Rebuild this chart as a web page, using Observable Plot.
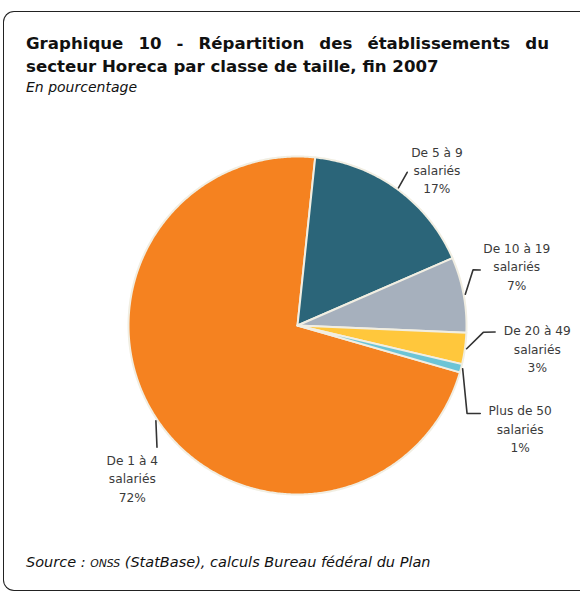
<!DOCTYPE html>
<html><head><meta charset="utf-8">
<script src="https://cdn.jsdelivr.net/npm/d3@7"></script>
<script src="https://cdn.jsdelivr.net/npm/@observablehq/plot@0.6"></script>
<style>
body{margin:0;background:#fff;}
#wrap{position:relative;width:580px;height:592px;overflow:hidden;font-family:"DejaVu Sans",sans-serif;color:#111;}
#frame{position:absolute;left:3px;top:11px;width:590px;height:580px;border:1.5px solid #222;border-right:none;border-radius:11px 0 0 11px;box-sizing:border-box;}
#title{position:absolute;left:26px;top:33px;width:523px;font-family:"DejaVu Sans",sans-serif;font-weight:700;font-size:16.6px;line-height:22.5px;}
#title .l1{text-align:justify;text-align-last:justify;white-space:nowrap;}
#sub{position:absolute;left:26px;top:79px;font-style:italic;font-size:14px;}
#chart{position:absolute;left:0;top:100px;}
#source{position:absolute;left:26px;top:554px;font-style:italic;font-size:14.5px;}
#source .sc{font-size:10.8px;}
</style></head>
<body>
<div id="wrap">
  <div id="frame"></div>
  <div id="title"><div class="l1">Graphique 10 - Répartition des établissements du</div><div>secteur Horeca par classe de taille, fin 2007</div></div>
  <div id="sub">En pourcentage</div>
  <div id="chart"></div>
  <div id="source">Source : <span class="sc">ONSS</span> (StatBase), calculs Bureau fédéral du Plan</div>
</div>
<script>
// Data
const categories = ["De 1 à 4", "De 5 à 9", "De 10 à 19", "De 20 à 49", "Plus de 50"];
const values = [72.2, 16.8, 7.2, 3.0, 0.8];
const unitLabel = "salariés";

// Styles / layout (kept separate from data)
const colors = ["#F58220", "#2B6579", "#A6B0BD", "#FFC73C", "#6CC4D6"];
const startDeg = 106.1;
// leader elbow/end points as [angleDeg, radiusFactor]
const leaderLayout = [
  [[229.1, 1.10]],
  [[35.6, 1.115]],
  [[72.4, 1.09], [73.1, 1.13]],
  [[92.1, 1.10], [91.9, 1.17]],
  [[117.4, 1.13], [115.7, 1.20]]
];
const labelLayout = [[227.4, 1.328], [41.7, 1.24], [74.7, 1.345], [95.3, 1.425], [114.7, 1.45]];

const rad = d => d * Math.PI / 180;
const polar = (a, r) => ({x: r * Math.sin(a), y: r * Math.cos(a)});

const table = categories.map((c, i) => ({key: c, value: values[i]}));
const arcs = d3.pie().sort(null).value(d => d.value)
  .startAngle(rad(startDeg)).endAngle(rad(startDeg) + 2 * Math.PI)(table);

const slicePts = [];
arcs.forEach(a => {
  const k = a.data.key;
  slicePts.push({key: k, x: 0, y: 0});
  const n = Math.max(2, Math.ceil((a.endAngle - a.startAngle) / rad(0.5)));
  for (let j = 0; j <= n; j++) {
    const t = a.startAngle + (a.endAngle - a.startAngle) * j / n;
    slicePts.push({key: k, ...polar(t, 1)});
  }
  slicePts.push({key: k, x: 0, y: 0});
});

const leaderPts = [];
arcs.forEach((a, i) => {
  const k = a.data.key;
  const mid = (a.startAngle + a.endAngle) / 2;
  leaderPts.push({key: k, ...polar(mid, 1.01)});
  leaderLayout[i].forEach(([ang, r]) => leaderPts.push({key: k, ...polar(rad(ang), r)}));
});

const labels = arcs.map((a, i) => ({
  key: a.data.key,
  text: `${a.data.key}\n${unitLabel}\n${Math.round(a.data.value)}%`,
  ...polar(rad(labelLayout[i][0]), labelLayout[i][1])
}));

const chart = Plot.plot({
  width: 580, height: 450,
  marginLeft: 128, marginRight: 114, marginTop: 56, marginBottom: 56,
  x: {domain: [-1, 1], axis: null},
  y: {domain: [-1, 1], axis: null},
  color: {domain: categories, range: colors},
  style: {fontFamily: "'DejaVu Sans', sans-serif", background: "transparent", overflow: "visible"},
  marks: [
    Plot.line(slicePts, {x: "x", y: "y", z: "key", fill: "key", stroke: "#F1EEE2", strokeWidth: 2, strokeLinejoin: "round", curve: "linear"}),
    Plot.line(leaderPts, {x: "x", y: "y", z: "key", stroke: "#333", strokeWidth: 1.6, curve: "linear"}),
    Plot.text(labels, {x: "x", y: "y", text: "text", textAnchor: "middle", lineAnchor: "middle", fontSize: 12.2, lineHeight: 1.5, fill: "#3a3a3a"})
  ]
});
document.getElementById("chart").appendChild(chart);
</script>
</body></html>
